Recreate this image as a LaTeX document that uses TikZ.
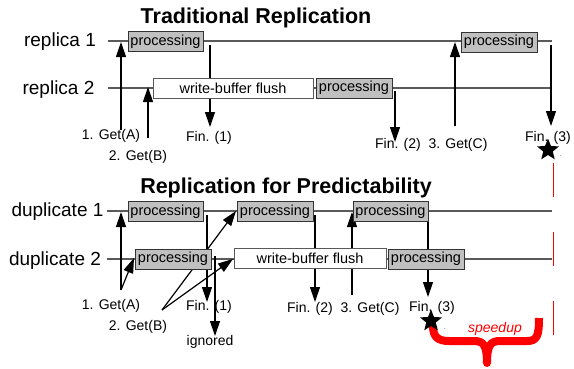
\documentclass[tikz,border=0pt]{standalone}
\usepackage{fontspec}
\setmainfont{Liberation Sans}
\usetikzlibrary{arrows.meta,shapes.geometric}
\definecolor{boxgray}{HTML}{C0C0C0}
\definecolor{tlgray}{HTML}{5A5A5A}
\pgfdeclarelayer{bg}
\pgfsetlayers{bg,main}
\begin{document}
\begin{tikzpicture}[x=1pt,y=-1pt,
  tl/.style={draw=tlgray, line width=1.3pt},
  proc/.style={draw=black!80, fill=boxgray, line width=0.9pt, minimum height=20pt, inner sep=0pt, font=\fontsize{14.5}{16}\selectfont},
  wbox/.style={draw=black!65, fill=white, line width=0.9pt, minimum height=20pt, inner sep=0pt, font=\fontsize{14.5}{16}\selectfont},
  lbl/.style={font=\fontsize{14}{16}\selectfont, inner sep=1pt},
  lane/.style={font=\fontsize{19}{22}\selectfont, anchor=base, inner sep=0pt},
  ttl/.style={font=\bfseries\fontsize{21.5}{24}\selectfont, anchor=base, inner sep=0pt},
  arr/.style={draw=black, line width=1.2pt, -{Triangle[length=15pt,width=10pt]}},
  starn/.style={star, star points=5, star point ratio=2.3, fill=black, minimum size=23pt, inner sep=0pt},
  bracestyle/.style={draw=red, line width=8pt, line join=round},
]
\useasboundingbox (0,0) rectangle (574,368);

% titles
\node[ttl] (t1) at (256,23) {Traditional Replication};
\node[ttl] (t2) at (286,193) {Replication for Predictability};

% lane labels
\node[lane] (l1) at (60,46) {replica 1};
\node[lane] (l2) at (58.5,94) {replica 2};
\node[lane] (l3) at (57.5,216) {duplicate 1};
\node[lane] (l4) at (55,265) {duplicate 2};

% timeline coordinates
\coordinate (r1s) at (108,41);  \coordinate (r1e) at (552,41);
\coordinate (r2s) at (108,88);  \coordinate (r2e) at (552,88);
\coordinate (d1s) at (107,211); \coordinate (d1e) at (552,211);
\coordinate (d2s) at (107,259); \coordinate (d2e) at (552,259);

% boxes (top)
\node[proc, minimum width=75pt] (p1) at (165.5,41.5) {processing};
\node[wbox, minimum width=160pt] (wb1) at (233,88) {write-buffer flush};
\node[proc, minimum width=76pt] (p2) at (354,88) {processing};
\node[proc, minimum width=76pt] (p3) at (499,42) {processing};
% boxes (bottom)
\node[proc, minimum width=75pt] (q1) at (165.5,211.5) {processing};
\node[proc, minimum width=76pt] (q2) at (275,211.5) {processing};
\node[proc, minimum width=75pt] (q3) at (390.5,211.5) {processing};
\node[proc, minimum width=76pt] (q4) at (173,259) {processing};
\node[wbox, minimum width=152pt] (wb2) at (310,258.5) {write-buffer flush};
\node[proc, minimum width=76pt] (q5) at (426,259) {processing};

% labels (top)
\node[lbl] (ga1) at (111,136) {1. Get(A)};
\node[lbl] (gb1) at (138,157) {2. Get(B)};
\node[lbl] (f11) at (209,138) {Fin. (1)};
\node[lbl] (f21) at (398,145) {Fin. (2)};
\node[lbl] (gc1) at (458,145) {3. Get(C)};
\node[lbl] (f31) at (548,138) {Fin. (3)};
% labels (bottom)
\node[lbl] (ga2) at (111,306) {1. Get(A)};
\node[lbl] (gb2) at (138,327) {2. Get(B)};
\node[lbl] (f12) at (209,307) {Fin. (1)};
\node[lbl] (ign) at (210,342) {ignored};
\node[lbl] (f22) at (310,309) {Fin. (2)};
\node[lbl] (gc2) at (370,309) {3. Get(C)};
\node[lbl] (f32) at (432,308) {Fin. (3)};

% arrow end coordinates (top)
\coordinate (a1s) at (121,130); \coordinate (a1t) at (121,42);
\coordinate (b1s) at (148,138); \coordinate (b1t) at (148,87);
\coordinate (e1s) at (210,45);  \coordinate (e1t) at (210,127);
\coordinate (e2s) at (395,91);  \coordinate (e2t) at (395,142);
\coordinate (c1s) at (455,126); \coordinate (c1t) at (455,42);
\coordinate (e3s) at (551,45);  \coordinate (e3t) at (551,126);
% arrow end coordinates (bottom)
\coordinate (a2s) at (121,290); \coordinate (a2t) at (121,212); \coordinate (a2u) at (134,258);
\coordinate (b2s) at (162,310); \coordinate (b2t) at (236,211); \coordinate (b2u) at (233,259);
\coordinate (g1s) at (207,215); \coordinate (g1t) at (207,302);
\coordinate (iis) at (215,256); \coordinate (iit) at (215,336);
\coordinate (g2s) at (315,215); \coordinate (g2t) at (315,302);
\coordinate (c2s) at (352,295); \coordinate (c2t) at (352,212);
\coordinate (g3s) at (428,222); \coordinate (g3t) at (428,297);

\begin{pgfonlayer}{bg}
  \draw[tl] (r1s) -- (r1e);
  \draw[tl] (r2s) -- (r2e);
  \draw[tl] (d1s) -- (d1e);
  \draw[tl] (d2s) -- (d2e);
  \draw[arr] (a1s) -- (a1t);
  \draw[arr] (b1s) -- (b1t);
  \draw[arr] (e1s) -- (e1t);
  \draw[arr] (e2s) -- (e2t);
  \draw[arr] (c1s) -- (c1t);
  \draw[arr] (e3s) -- (e3t);
  \draw[arr] (a2s) -- (a2t);
  \draw[arr] (a2s) -- (a2u);
  \draw[arr] (b2s) -- (b2t);
  \draw[arr] (b2s) -- (b2u);
  \draw[arr] (g1s) -- (g1t);
  \draw[arr] (iis) -- (iit);
  \draw[arr] (g2s) -- (g2t);
  \draw[arr] (c2s) -- (c2t);
  \draw[arr] (g3s) -- (g3t);
\end{pgfonlayer}

% red dashed boundary
\coordinate (rds) at (553,163); \coordinate (rde) at (553,336);
\draw[red, line width=1pt, dash pattern=on 34pt off 35pt] (rds) -- (rde);

% speedup brace
\coordinate (brl) at (433,326); \coordinate (brr) at (539,318);
\coordinate (brt) at (487,363);
\draw[bracestyle] (brl) .. controls (433,337) and (438,341) .. (449,341)
  -- (474,341) .. controls (484,341) and (487,346) .. (brt)
  .. controls (487,346) and (490,341) .. (500,341)
  -- (527,341) .. controls (537,341) and (539,336) .. (brr);
\node[lbl, text=red, font=\itshape\fontsize{14}{16}\selectfont] (sp) at (495,329) {speedup};

% stars
\node[starn] (s1) at (548,150) {};
\node[starn] (s2) at (431,321) {};
\node[font=\fontsize{6}{6}\selectfont, inner sep=0pt] (d1) at (561,156) {.};
\node[font=\fontsize{6}{6}\selectfont, inner sep=0pt] (d2) at (445,329) {.};
\end{tikzpicture}
\end{document}
